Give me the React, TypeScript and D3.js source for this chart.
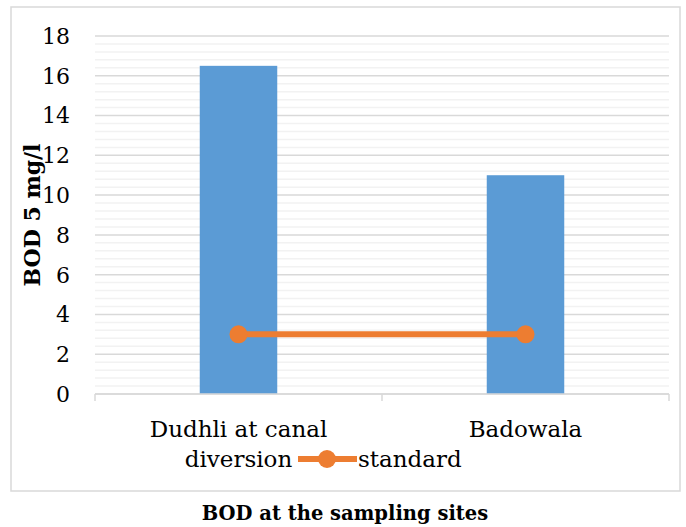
import React from "react";
import * as d3 from "d3";

const categories: string[][] = [["Dudhli at canal", "diversion"], ["Badowala"]];
const bodValues: number[] = [16.5, 11];
const standardValues: number[] = [3, 3];
const yTicks: number[] = [0, 2, 4, 6, 8, 10, 12, 14, 16, 18];
const yAxisTitle = "BOD 5 mg/l";
const chartTitle = "BOD at the sampling sites";
const legendLabel = "standard";

const W = 686;
const H = 527;
const plot = { left: 95, right: 669, top: 36, bottom: 394 };
const FONT = "'DejaVu Serif', serif";
const BLUE = "#5b9bd5";
const ORANGE = "#ed7d31";

export default function App() {
  const keys = categories.map((_, i) => String(i));
  const x = d3.scaleBand<string>().domain(keys).range([plot.left, plot.right]).paddingInner(0).paddingOuter(0);
  const y = d3.scaleLinear().domain([0, 18]).range([plot.bottom, plot.top]);
  const barW = x.bandwidth() * 0.27;
  const minor = d3.range(0, 18.0001, 0.4).filter((v) => Math.abs(v / 2 - Math.round(v / 2)) > 1e-6);
  const line = d3
    .line<number>()
    .x((_, i) => (x(keys[i]) as number) + x.bandwidth() / 2)
    .y((d) => y(d));
  const boundaries = [plot.left, ...keys.map((k) => (x(k) as number) + x.bandwidth())];

  return (
    <svg width={W} height={H} style={{ position: "absolute", left: 0, top: 0 }} fontFamily={FONT}>
      <rect x={0} y={0} width={W} height={H} fill="#fff" />
      <rect x={11} y={7} width={669} height={484} fill="none" stroke="#d9d9d9" strokeWidth={1.5} />
      {minor.map((v) => (
        <line key={"m" + v} x1={plot.left} x2={plot.right} y1={y(v)} y2={y(v)} stroke="#f2f2f2" strokeWidth={1.5} />
      ))}
      {yTicks.map((v) => (
        <line key={"g" + v} x1={plot.left} x2={plot.right} y1={y(v)} y2={y(v)} stroke="#d9d9d9" strokeWidth={1.5} />
      ))}
      {yTicks.map((v) => (
        <text key={"t" + v} x={70} y={y(v)} dy="0.36em" textAnchor="end" fontSize={22} fill="#000">
          {v}
        </text>
      ))}
      {bodValues.map((v, i) => (
        <rect
          key={"b" + i}
          x={(x(keys[i]) as number) + x.bandwidth() / 2 - barW / 2}
          y={y(v)}
          width={barW}
          height={y(0) - y(v)}
          fill={BLUE}
        />
      ))}
      <line x1={plot.left} x2={plot.right} y1={y(0)} y2={y(0)} stroke="#d9d9d9" strokeWidth={1.5} />
      {boundaries.map((bx, i) => (
        <line key={"tk" + i} x1={bx} x2={bx} y1={y(0)} y2={y(0) + 7} stroke="#d9d9d9" strokeWidth={1.5} />
      ))}
      <path d={line(standardValues) || ""} fill="none" stroke={ORANGE} strokeWidth={6} />
      {standardValues.map((v, i) => (
        <circle key={"c" + i} cx={(x(keys[i]) as number) + x.bandwidth() / 2} cy={y(v)} r={9} fill={ORANGE} />
      ))}
      {categories.map((lines, i) => (
        <text key={"c" + i} textAnchor="middle" fontSize={23} fill="#000">
          {lines.map((l, j) => (
            <tspan key={j} x={(x(keys[i]) as number) + x.bandwidth() / 2} y={437 + j * 30}>
              {l}
            </tspan>
          ))}
        </text>
      ))}
      <line x1={298} x2={357} y1={459} y2={459} stroke={ORANGE} strokeWidth={6} />
      <circle cx={327} cy={459} r={9} fill={ORANGE} />
      <text x={358} y={467} fontSize={23} fill="#000">
        {legendLabel}
      </text>
      <text
        transform={`translate(40, ${(plot.top + plot.bottom) / 2}) rotate(-90)`}
        textAnchor="middle"
        fontSize={22}
        fontWeight="bold"
        fill="#000"
      >
        {yAxisTitle}
      </text>
      <text x={W / 2 + 2} y={520} textAnchor="middle" fontSize={19.5} fontWeight="bold" fill="#000">
        {chartTitle}
      </text>
    </svg>
  );
}
